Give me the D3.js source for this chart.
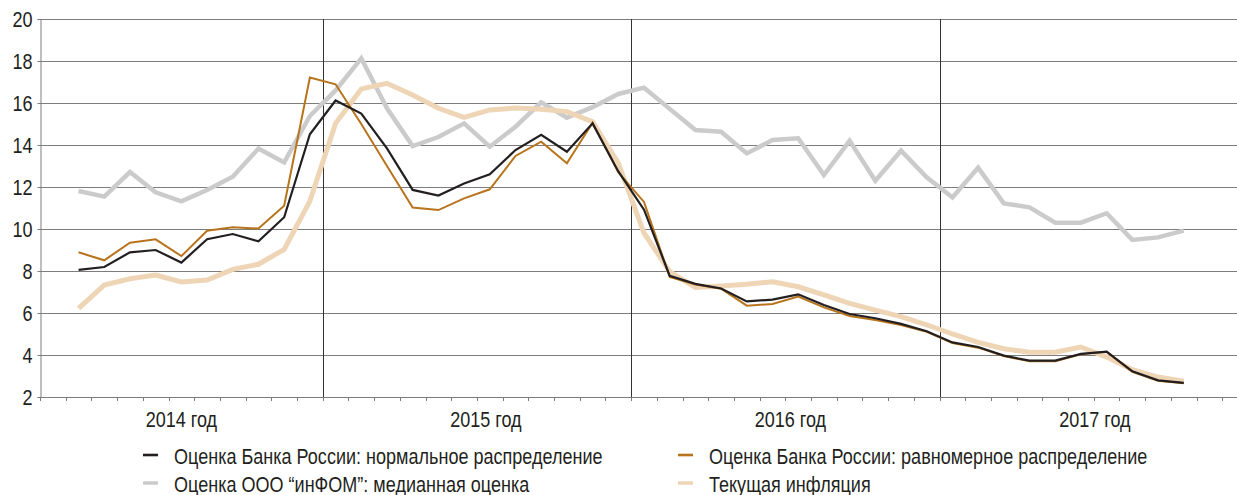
<!DOCTYPE html>
<html>
<head>
<meta charset="utf-8">
<script src="https://cdn.jsdelivr.net/npm/d3@7"></script>
<style>
  html, body { margin: 0; padding: 0; background: #fff; }
  svg text { font-family: "Liberation Sans", Arial, sans-serif; fill: #231f20; font-size: 22px; }
</style>
</head>
<body>
<div id="chart"></div>
<script>
// Months on the x axis (one band per month, Feb 2014 .. Dec 2017)
var months = [];
for (var yr = 2014; yr <= 2017; yr++) {
    for (var m = 1; m <= 12; m++) {
        if (yr === 2014 && m === 1) continue;
        months.push((m < 10 ? '0' + m : '' + m) + '.' + yr);
    }
}
// series start in March 2014
var firstMonth = '03.2014';

var years = ['2014 год', '2015 год', '2016 год', '2017 год'];
var yTicks = [2, 4, 6, 8, 10, 12, 14, 16, 18, 20];

// Оценка Банка России: нормальное распределение
var bankNormal = [8.05, 8.19, 8.89, 9.0, 8.4, 9.51, 9.76, 9.41, 10.56, 14.51, 16.12, 15.5,
    13.84, 11.86, 11.59, 12.17, 12.6, 13.76, 14.49, 13.68, 15.03, 12.74, 10.92, 7.77,
    7.39, 7.17, 6.55, 6.64, 6.89, 6.38, 5.95, 5.75, 5.48, 5.13, 4.6, 4.38,
    3.97, 3.73, 3.73, 4.05, 4.16, 3.22, 2.79, 2.67];

// Оценка Банка России: равномерное распределение
var bankUniform = [8.89, 8.51, 9.35, 9.51, 8.71, 9.92, 10.08, 10.02, 11.11, 17.21, 16.89, 15.0,
    13.0, 11.02, 10.9, 11.46, 11.89, 13.48, 14.16, 13.13, 15.06, 12.7, 11.29, 7.72,
    7.36, 7.16, 6.35, 6.43, 6.78, 6.27, 5.86, 5.67, 5.43, 5.1, 4.57, 4.35,
    3.95, 3.7, 3.7, 4.03, 4.15, 3.2, 2.77, 2.65];

// Оценка ООО "инФОМ": медианная оценка
var infom = [11.81, 11.54, 12.71, 11.75, 11.32, 11.86, 12.49, 13.83, 13.17, 15.38, 16.6, 18.13,
    15.75, 13.95, 14.38, 15.03, 13.92, 14.87, 16.03, 15.3, 15.8, 16.43, 16.73, 15.72,
    14.71, 14.63, 13.6, 14.24, 14.32, 12.57, 14.2, 12.3, 13.73, 12.46, 11.5, 12.92,
    11.22, 11.03, 10.3, 10.3, 10.75, 9.48, 9.6, 9.92];

// Текущая инфляция
var currentInfl = [6.22, 7.33, 7.63, 7.81, 7.48, 7.57, 8.08, 8.32, 9.03, 11.33, 15.03, 16.67,
    16.94, 16.38, 15.75, 15.32, 15.67, 15.76, 15.7, 15.59, 15.11, 13.14, 9.81, 7.97,
    7.22, 7.29, 7.37, 7.49, 7.25, 6.86, 6.46, 6.14, 5.83, 5.44, 5.0, 4.6,
    4.3, 4.13, 4.13, 4.38, 3.9, 3.3, 2.95, 2.75];

var series = [
    { name: 'Оценка ООО “инФОМ”: медианная оценка', values: infom, color: '#cbcbcb', width: 4.5 },
    { name: 'Текущая инфляция', values: currentInfl, color: '#eed5b5', width: 5 },
    { name: 'Оценка Банка России: равномерное распределение', values: bankUniform, color: '#b8741c', width: 2 },
    { name: 'Оценка Банка России: нормальное распределение', values: bankNormal, color: '#231f20', width: 2.2 }
];
var legendOrder = [3, 2, 0, 1];

var svgWidth = 1237;
var svgHeight = 495;
var narrow = 0.82; // squeeze the regular font to look like a narrow face

var svg = d3.select('#chart')
    .append('svg')
    .attr('width', svgWidth)
    .attr('height', svgHeight);

var xScale = d3.scaleBand()
    .domain(months)
    .range([40, 1248])
    .padding(0);

var yScale = d3.scaleLinear()
    .domain([2, 20])
    .range([397, 19]);

var bw = xScale.bandwidth();
var startIdx = months.indexOf(firstMonth);
var xOf = function(i) { return xScale(months[startIdx + i]) + bw / 2; };

// helper: narrow text placed at (x, y)
function addText(parent, x, y, str, anchor) {
    return parent.append('text')
        .attr('transform', 'translate(' + x + ',' + y + ') scale(' + narrow + ',1)')
        .attr('text-anchor', anchor || 'start')
        .text(str);
}

// horizontal grid
svg.append('g')
    .selectAll('line')
    .data(yTicks.slice(1))
    .enter()
    .append('line')
    .attr('x1', 40)
    .attr('x2', svgWidth)
    .attr('y1', d => Math.round(yScale(d)) + 0.5)
    .attr('y2', d => Math.round(yScale(d)) + 0.5)
    .attr('stroke', '#7d7d7d')
    .attr('stroke-width', 1);

// year dividers
var yearStarts = months.filter(d => d.slice(0, 2) === '01');
svg.append('g')
    .selectAll('line')
    .data(yearStarts)
    .enter()
    .append('line')
    .attr('x1', d => Math.round(xScale(d)) + 0.5)
    .attr('x2', d => Math.round(xScale(d)) + 0.5)
    .attr('y1', yScale(20))
    .attr('y2', yScale(2) + 4)
    .attr('stroke', '#333')
    .attr('stroke-width', 1);

// x axis: line + monthly ticks
var xAxisG = svg.append('g');
xAxisG.append('line')
    .attr('x1', 40).attr('x2', svgWidth)
    .attr('y1', Math.round(yScale(2)) + 0.5).attr('y2', Math.round(yScale(2)) + 0.5)
    .attr('stroke', '#7d7d7d');
xAxisG.selectAll('.mtick')
    .data(months)
    .enter()
    .append('line')
    .attr('class', 'mtick')
    .attr('x1', d => Math.round(xScale(d)) + 0.5)
    .attr('x2', d => Math.round(xScale(d)) + 0.5)
    .attr('y1', yScale(2))
    .attr('y2', yScale(2) + 4)
    .attr('stroke', '#7d7d7d');

// year labels
var julyMid = xScale('07.2014') + bw / 2;
var yearLabel = d3.scalePoint()
    .domain(years)
    .range([julyMid, julyMid + 3 * 304.5]);
var yearG = svg.append('g');
years.forEach(function(d) {
    addText(yearG, yearLabel(d), 426.5, d, 'middle');
});

// y axis (ticks + line from d3, labels drawn narrow)
var yAxis = d3.axisLeft(yScale)
    .tickValues(yTicks)
    .tickSize(3)
    .tickFormat('');
var yAxisG = svg.append('g')
    .attr('transform', 'translate(40.5, 0)')
    .call(yAxis);
yAxisG.select('.domain').attr('stroke', '#7d7d7d');
yAxisG.selectAll('.tick line').attr('stroke', '#7d7d7d');
var yLabG = svg.append('g');
yTicks.forEach(function(d) {
    addText(yLabG, 32.5, yScale(d) + 7.8, d3.format('d')(d), 'end');
});

// lines
var line = d3.line()
    .x((d, i) => xOf(i))
    .y(d => yScale(d));

svg.append('g')
    .selectAll('path')
    .data(series)
    .enter()
    .append('path')
    .attr('d', d => line(d.values))
    .attr('fill', 'none')
    .attr('stroke', d => d.color)
    .attr('stroke-width', d => d.width)
    .attr('stroke-linejoin', 'miter');

// legend
var legendPos = [[143, 456], [678, 456], [143, 484], [678, 484]];
var legend = svg.append('g')
    .selectAll('g')
    .data(legendOrder)
    .enter()
    .append('g')
    .attr('transform', (d, i) => 'translate(' + legendPos[i][0] + ',' + legendPos[i][1] + ')');
legend.append('line')
    .attr('x1', 0).attr('x2', 15)
    .attr('y1', -1).attr('y2', -1)
    .attr('stroke', d => series[d].color)
    .attr('stroke-width', d => series[d].width > 3 ? 3.5 : 2.6);
legend.each(function(d) {
    addText(d3.select(this), 31, 7.8, series[d].name);
});
</script>
</body>
</html>
